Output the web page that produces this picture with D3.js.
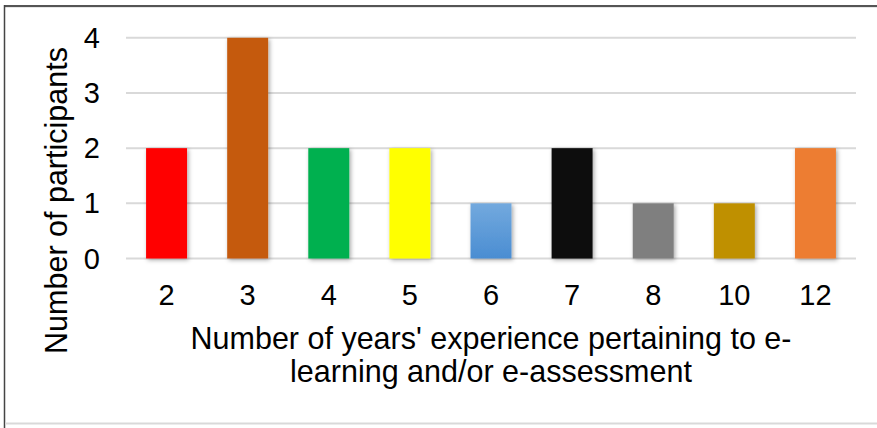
<!DOCTYPE html>
<html>
<head>
<meta charset="utf-8">
<script src="https://cdn.jsdelivr.net/npm/d3@7"></script>
<style>
  html, body { margin: 0; padding: 0; background: #fff; }
  svg { display: block; }
  text { font-family: "Liberation Sans", Arial, sans-serif; fill: #000; }
</style>
</head>
<body>
<svg id="chart" width="877" height="428"></svg>
<script>
// Years of experience (categories) and number of participants per category
const years = ["2", "3", "4", "5", "6", "7", "8", "10", "12"];
const participants = [2, 4, 2, 2, 1, 2, 1, 1, 2];
const barColors = ["#ff0000", "#c55a11", "#00b050", "#ffff00", "url(#blueFill)",
                   "#0d0d0d", "#7f7f7f", "#bf9000", "#ed7d31"];
const yTicks = [0, 1, 2, 3, 4];
const xTitleLines = ["Number of years' experience pertaining to e-",
                     "learning and/or e-assessment"];
const yTitle = "Number of participants";

const W = 877, H = 428;
const plot = { left: 126, right: 856, top: 37.8, bottom: 258.5 };

const svg = d3.select("#chart");
const defs = svg.append("defs");

// soft drop shadow under each bar
const shadow = defs.append("filter").attr("id", "barShadow")
  .attr("x", "-30%").attr("y", "-10%").attr("width", "160%").attr("height", "130%");
shadow.append("feDropShadow")
  .attr("dx", 1.5).attr("dy", 1.5).attr("stdDeviation", 2.2)
  .attr("flood-color", "#000").attr("flood-opacity", 0.35);

// light-to-deeper blue fill for the "6" bar
const grad = defs.append("linearGradient").attr("id", "blueFill")
  .attr("x1", 0).attr("y1", 0).attr("x2", 0).attr("y2", 1);
grad.append("stop").attr("offset", "0%").attr("stop-color", "#73a9de");
grad.append("stop").attr("offset", "100%").attr("stop-color", "#4a8dd2");

// frame
svg.append("line").attr("x1", 4.5).attr("x2", W).attr("y1", 6).attr("y2", 6)
  .attr("stroke", "#555").attr("stroke-width", 2);
svg.append("line").attr("x1", 4.5).attr("x2", W).attr("y1", 7.5).attr("y2", 7.5)
  .attr("stroke", "#e6e6e6").attr("stroke-width", 1);
svg.append("line").attr("x1", 4.5).attr("x2", 4.5).attr("y1", 5).attr("y2", H)
  .attr("stroke", "#444").attr("stroke-width", 1.5);
svg.append("line").attr("x1", 5).attr("x2", W).attr("y1", 423.5).attr("y2", 423.5)
  .attr("stroke", "#d9d9d9").attr("stroke-width", 2);

const x = d3.scaleBand().domain(years).range([plot.left, plot.right]).paddingInner(0.495).paddingOuter(0.2475);
const y = d3.scaleLinear().domain([0, 4]).range([plot.bottom, plot.top]);

// horizontal gridlines
svg.append("g").selectAll("line").data(yTicks).join("line")
  .attr("x1", plot.left).attr("x2", plot.right)
  .attr("y1", d => y(d)).attr("y2", d => y(d))
  .attr("stroke", "#d9d9d9").attr("stroke-width", 2);

// bars
svg.append("g").selectAll("rect").data(years).join("rect")
  .attr("x", d => x(d))
  .attr("width", x.bandwidth())
  .attr("y", (d, i) => y(participants[i]))
  .attr("height", (d, i) => y(0) - y(participants[i]))
  .attr("fill", (d, i) => barColors[i])
  .attr("filter", "url(#barShadow)");

// y tick labels
svg.append("g").selectAll("text").data(yTicks).join("text")
  .attr("x", 100).attr("y", d => y(d))
  .attr("dy", "0.35em")
  .attr("text-anchor", "end")
  .style("font-size", "29px")
  .text(d => d);

// x tick labels
svg.append("g").selectAll("text").data(years).join("text")
  .attr("x", d => x(d) + x.bandwidth() / 2).attr("y", 305)
  .attr("text-anchor", "middle")
  .style("font-size", "29px")
  .text(d => d);

// x axis title (two lines)
svg.append("g").selectAll("text").data(xTitleLines).join("text")
  .attr("x", (plot.left + plot.right) / 2)
  .attr("y", (d, i) => 349 + i * 33)
  .attr("text-anchor", "middle")
  .style("font-size", "30.5px")
  .text(d => d);

// y axis title
svg.append("text")
  .attr("transform", "translate(67,200.5) rotate(-90)")
  .attr("text-anchor", "middle")
  .style("font-size", "30.5px")
  .text(yTitle);
</script>
</body>
</html>
